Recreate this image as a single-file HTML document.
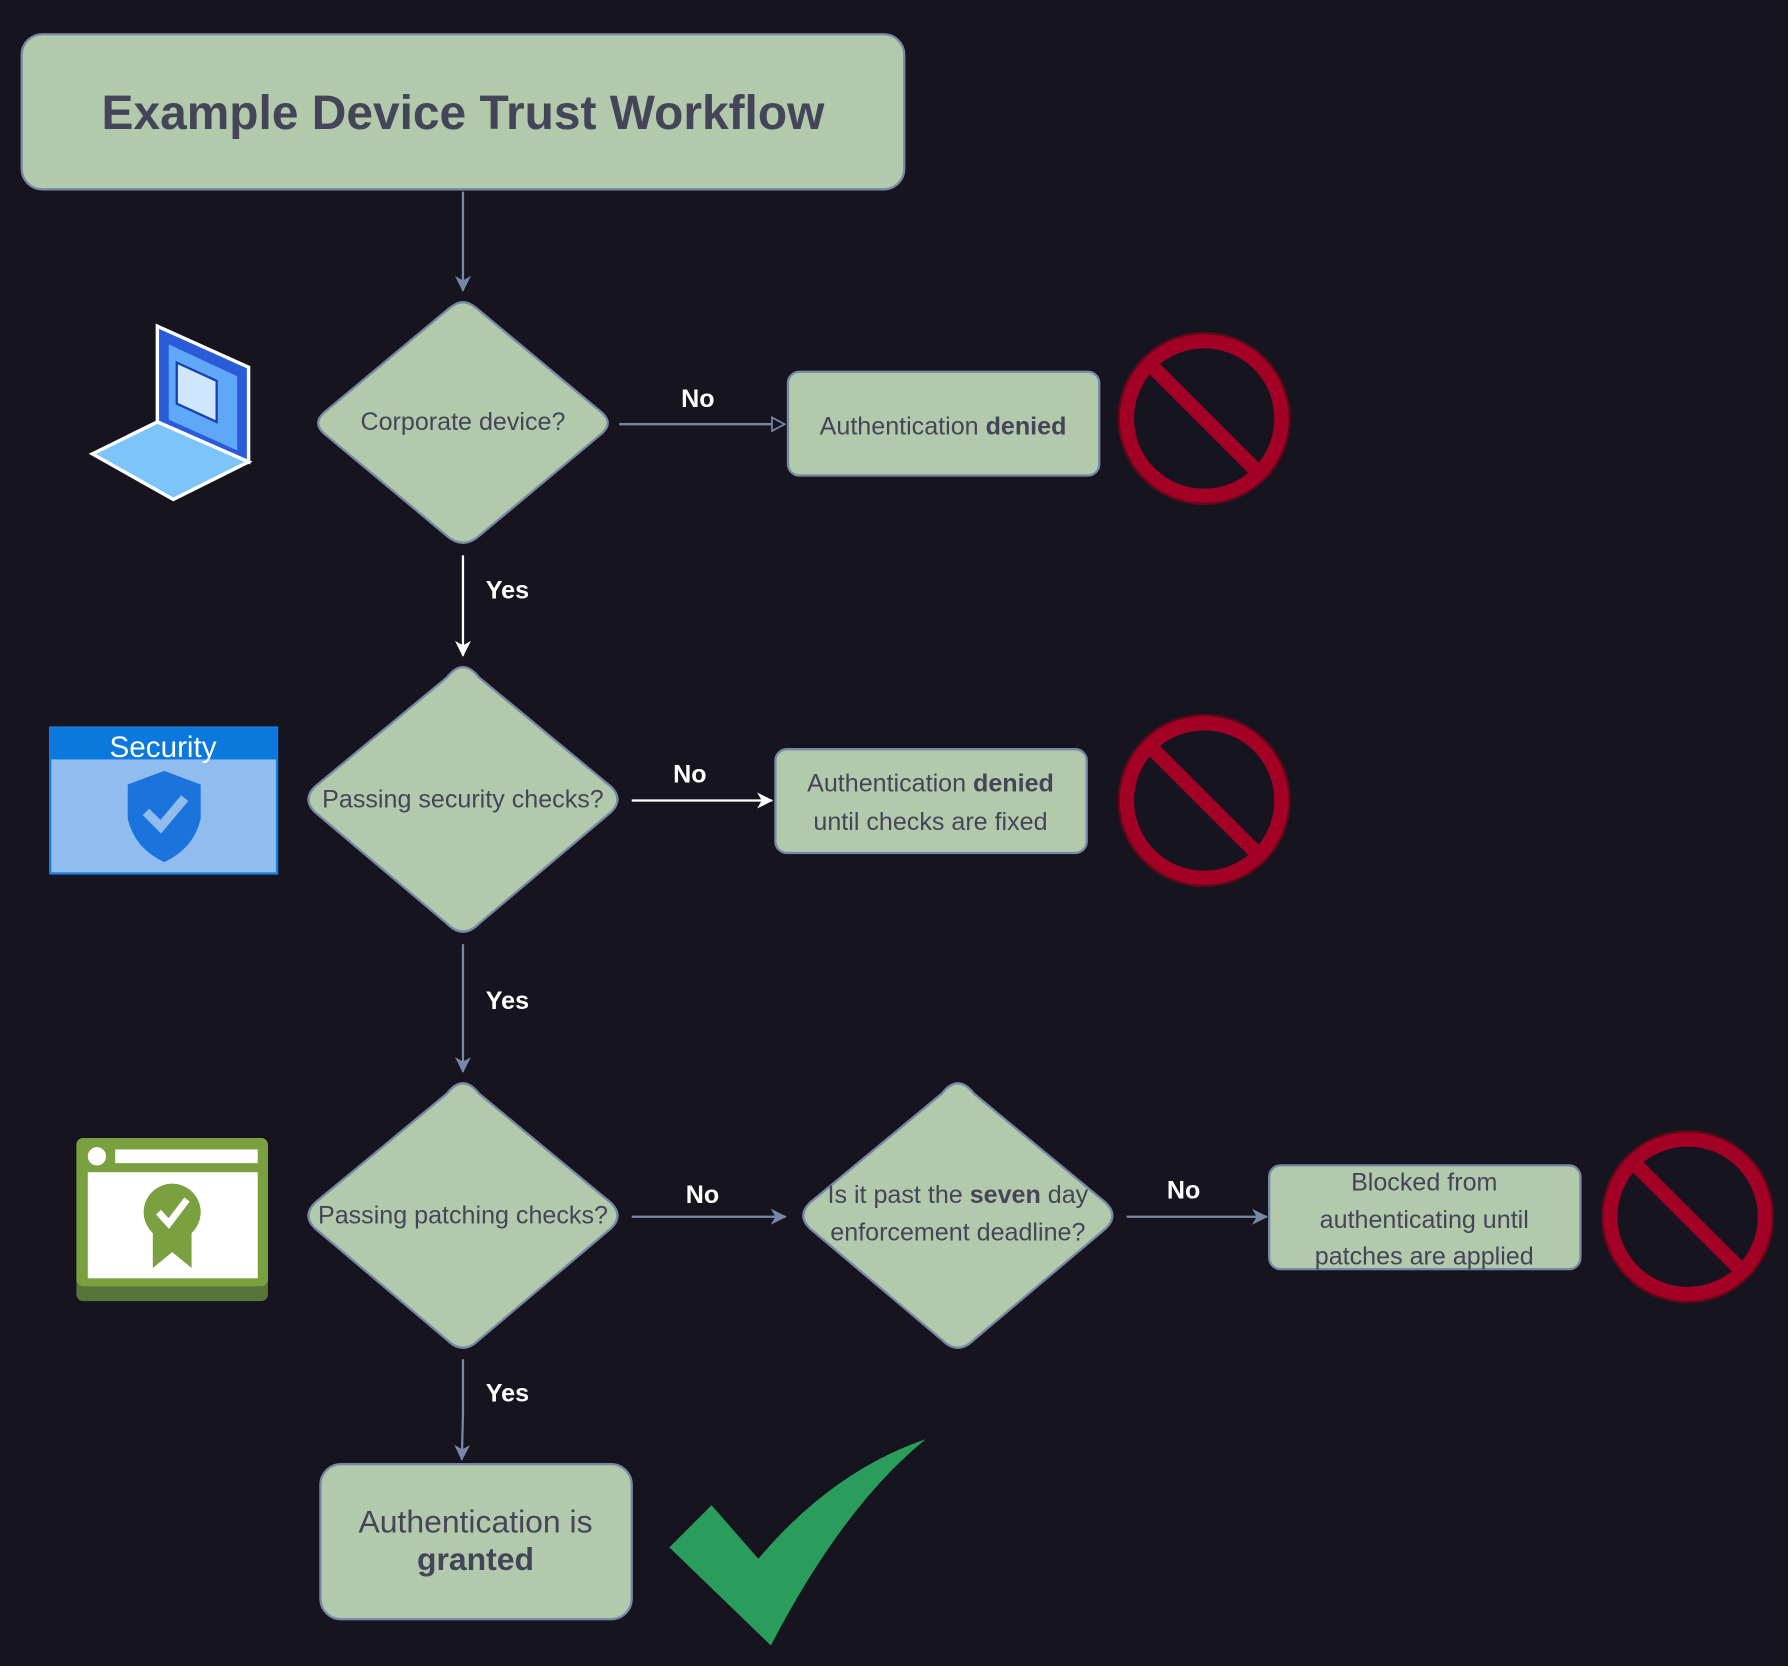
<!DOCTYPE html>
<html><head><meta charset="utf-8"><style>
html,body{margin:0;padding:0;background:#16141f;}
svg{display:block}
text{font-family:"Liberation Sans",sans-serif;}
</style></head><body>
<svg width="1788" height="1666" viewBox="0 0 1568 1461" xmlns="http://www.w3.org/2000/svg">
<rect width="1568" height="1461" fill="#16141f"/>
<defs>
<marker id="ao" markerWidth="14" markerHeight="14" refX="12" refY="7" orient="auto" markerUnits="userSpaceOnUse"><path d="M1,1 L12,7 L1,13 Z" fill="#16141f" stroke="#7788a6" stroke-width="1.5"/></marker>
<marker id="ag" markerWidth="16" markerHeight="16" refX="13" refY="8" orient="auto" markerUnits="userSpaceOnUse"><path d="M0,1 L14,8 L0,15 L4,8 Z" fill="#7788a6"/></marker>
<marker id="aw" markerWidth="16" markerHeight="16" refX="13" refY="8" orient="auto" markerUnits="userSpaceOnUse"><path d="M0,1 L14,8 L0,15 L4,8 Z" fill="#ffffff"/></marker>
</defs>
<g stroke="#7788a6" stroke-width="2" fill="#b2c9ab">
<rect x="19" y="30" width="774" height="136" rx="18"/>
<path d="M406,265 Q412,265 420,272 L528,362 Q538,371 528,380 L420,470 Q406,482 392,470 L284,380 Q274,371 284,362 L392,272 Q400,265 406,265 Z"/>
<path d="M406,585 Q413,585 420,594 L536,690 Q547,701 536,712 L420,810 Q406,824 392,810 L276,712 Q265,701 276,690 L392,594 Q399,585 406,585 Z"/>
<path d="M406,950 Q413,950 420,959 L536,1055 Q547,1066 536,1077 L420,1175 Q406,1189 392,1175 L276,1077 Q265,1066 276,1055 L392,959 Q399,950 406,950 Z"/>
<path d="M840,950 Q847,950 854,959 L970,1055 Q981,1066 970,1077 L854,1175 Q840,1189 826,1175 L710,1077 Q699,1066 710,1055 L826,959 Q833,950 840,950 Z"/>
<rect x="691" y="326" width="273" height="91" rx="10"/>
<rect x="680" y="657" width="273" height="91" rx="10"/>
<rect x="1113" y="1022" width="273" height="91" rx="10"/>
<rect x="281" y="1284" width="273" height="136" rx="18"/>
</g>
<g stroke-width="2" fill="none">
<path d="M406,168 V255" stroke="#7788a6" marker-end="url(#ag)"/>
<path d="M543,372 H688" stroke="#7788a6" marker-end="url(#ao)"/>
<path d="M406,487 V575" stroke="#ffffff" marker-end="url(#aw)"/>
<path d="M554,702 H677" stroke="#ffffff" marker-end="url(#aw)"/>
<path d="M406,828 V940" stroke="#7788a6" marker-end="url(#ag)"/>
<path d="M554,1067 H689" stroke="#7788a6" marker-end="url(#ag)"/>
<path d="M988,1067 H1111" stroke="#7788a6" marker-end="url(#ag)"/>
<path d="M406,1192 V1240 L405,1280" stroke="#7788a6" marker-end="url(#ag)"/>
</g>
<g font-weight="bold" fill="#ffffff" font-size="22">
<text x="612" y="357" text-anchor="middle">No</text>
<text x="445" y="525" text-anchor="middle">Yes</text>
<text x="605" y="686" text-anchor="middle">No</text>
<text x="445" y="885" text-anchor="middle">Yes</text>
<text x="616" y="1055" text-anchor="middle">No</text>
<text x="1038" y="1051" text-anchor="middle">No</text>
<text x="445" y="1229" text-anchor="middle">Yes</text>
</g>
<g fill="#454559" text-anchor="middle" font-size="22">
<text x="406" y="113" font-size="42" font-weight="bold">Example Device Trust Workflow</text>
<text x="406" y="377">Corporate device?</text>
<text x="406" y="708">Passing security checks?</text>
<text x="406" y="1073">Passing patching checks?</text>
<text x="840" y="1055">Is it past the <tspan font-weight="bold">seven</tspan> day</text>
<text x="840" y="1088">enforcement deadline?</text>
<text x="827" y="381">Authentication <tspan font-weight="bold">denied</tspan></text>
<text x="816" y="694">Authentication <tspan font-weight="bold">denied</tspan></text>
<text x="816" y="728">until checks are fixed</text>
<text x="1249" y="1044">Blocked from</text>
<text x="1249" y="1077">authenticating until</text>
<text x="1249" y="1109">patches are applied</text>
<text x="417" y="1344" font-size="28">Authentication is</text>
<text x="417" y="1377" font-size="28" font-weight="bold">granted</text>
</g>
<!-- no-entry icons -->
<g fill="none" stroke="#a20025" stroke-width="13">
<circle cx="1056" cy="367" r="68"/><path d="M1008,319 L1104,415"/>
<circle cx="1056" cy="702" r="68"/><path d="M1008,654 L1104,750"/>
<circle cx="1480" cy="1067" r="68"/><path d="M1432,1019 L1528,1115"/>
</g>
<g stroke="#5a0a18" stroke-width="2" fill="none">
<circle cx="1056" cy="367" r="75"/><circle cx="1480" cy="1067" r="75"/><circle cx="1056" cy="702" r="75"/>
</g>
<!-- laptop -->
<path d="M138,286 L218,322 L218,405 L138,370 Z" fill="#2a5bd8" stroke="#fff" stroke-width="3"/>
<path d="M148,302 L208,330 L208,395 L148,368 Z" fill="#5fa8f7"/>
<path d="M155,318 L190,334 L190,370 L155,354 Z" fill="#cfe6ff" stroke="#1a3fb0" stroke-width="2"/>
<path d="M81,398 L138,370 L218,405 L152,438 Z" fill="#7dc4f8" stroke="#fff" stroke-width="3"/>
<!-- security -->
<rect x="44" y="638" width="199" height="128" fill="#91bcf0" stroke="#1d7bdc" stroke-width="2"/>
<rect x="44" y="638" width="199" height="28" fill="#0a78dc"/>
<text x="143" y="664" text-anchor="middle" fill="#fff" font-size="26">Security</text>
<path d="M144,676 L176,688 L176,718 Q170,744 144,756 Q118,744 112,718 L112,688 Z" fill="#1a74dc"/>
<path d="M128,712 L141,725 L162,700" fill="none" stroke="#91bcf0" stroke-width="8"/>
<!-- certificate -->
<rect x="67" y="998" width="168" height="143" rx="6" fill="#57743a"/>
<rect x="67" y="998" width="168" height="130" rx="6" fill="#7aa040"/>
<circle cx="85" cy="1014" r="8" fill="#fff"/>
<rect x="101" y="1008" width="125" height="12" fill="#fff"/>
<rect x="77" y="1028" width="149" height="93" fill="#fff"/>
<path d="M134,1075 L134,1112 L151,1098 L168,1112 L168,1075 Z" fill="#7aa040"/>
<circle cx="151" cy="1063" r="25" fill="#7aa040"/>
<path d="M139,1063 L148,1073 L164,1052" fill="none" stroke="#fff" stroke-width="6"/>
<!-- check -->
<path d="M587,1357 L624,1320 L665,1367 Q730,1290 812,1262 Q740,1320 676,1443 Z" fill="#2a9c5c"/>
</svg>
</body></html>
